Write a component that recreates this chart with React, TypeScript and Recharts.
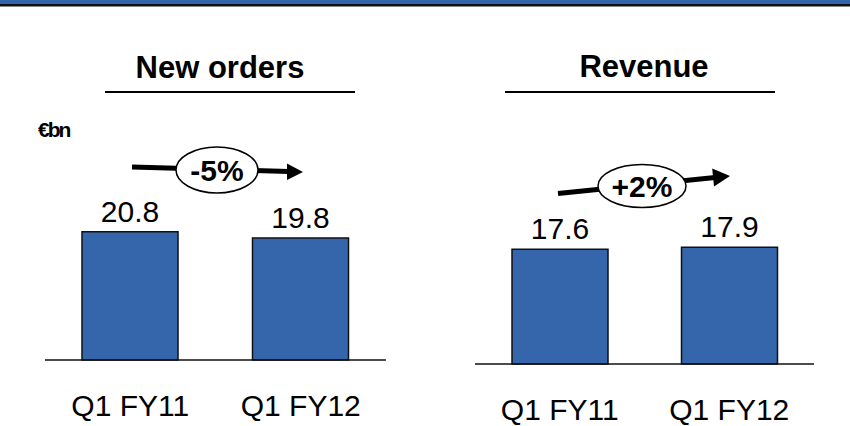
import React from "react";
import { BarChart, Bar, XAxis, YAxis, LabelList } from "recharts";

// Values (€bn)
const categories = ["Q1 FY11", "Q1 FY12"];
const newOrders = [20.8, 19.8];
const revenue = [17.6, 17.9];
const titles = ["New orders", "Revenue"];
const changes = ["-5%", "+2%"];
const unit = "€bn";

const BLUE = "#3566AB";
const FONT = "Arial, 'Liberation Sans', sans-serif";

const ordersData = categories.map((c, i) => ({ name: c, value: newOrders[i] }));
const revenueData = categories.map((c, i) => ({ name: c, value: revenue[i] }));

interface PanelProps {
  data: { name: string; value: number }[];
  left: number;
  margin: { top: number; right: number; left: number; bottom: number };
  axisHeight: number;
}

function Panel({ data, left, margin, axisHeight }: PanelProps) {
  return (
    <div style={{ position: "absolute", left, top: 0 }}>
      <BarChart width={425} height={426} data={data} margin={margin} barCategoryGap={0}>
        <XAxis
          dataKey="name"
          height={axisHeight}
          tickLine={false}
          tickSize={0}
          tickMargin={35}
          axisLine={{ stroke: "#111", strokeWidth: 1.5 }}
          tick={{ fill: "#000", fontSize: 30, fontFamily: FONT }}
          interval={0}
        />
        <YAxis hide domain={[0, 25]} />
        <Bar dataKey="value" fill={BLUE} stroke="#111" strokeWidth={1.5} barSize={96} isAnimationActive={false}>
          <LabelList
            dataKey="value"
            position="top"
            offset={10}
            formatter={(v: number) => v.toFixed(1)}
            style={{ fill: "#000", fontSize: 30, fontFamily: FONT }}
          />
        </Bar>
      </BarChart>
    </div>
  );
}

export default function App() {
  return (
    <div style={{ position: "absolute", left: 0, top: 0, width: 850, height: 426, background: "#fff", overflow: "hidden" }}>
      <Panel data={ordersData} left={0} margin={{ top: 206, right: 39, left: 45, bottom: 0 }} axisHeight={66} />
      <Panel data={revenueData} left={425} margin={{ top: 201, right: 36, left: 50, bottom: 0 }} axisHeight={62} />

      {/* slide decorations: header band, titles, growth arrows */}
      <svg width={850} height={426} style={{ position: "absolute", left: 0, top: 0, pointerEvents: "none" }}>
        <rect x={0} y={0} width={850} height={4} fill={BLUE} />
        <rect x={0} y={4} width={850} height={2} fill="#111" />
        <rect x={0} y={6} width={850} height={1} fill="#888" />

        <text x={220} y={78} textAnchor="middle" fontFamily={FONT} fontWeight="bold" fontSize={31} fill="#000">
          {titles[0]}
        </text>
        <line x1={105} y1={92} x2={355} y2={92} stroke="#000" strokeWidth={2} />
        <text x={644} y={77} textAnchor="middle" fontFamily={FONT} fontWeight="bold" fontSize={31} fill="#000">
          {titles[1]}
        </text>
        <line x1={505} y1={92} x2={775} y2={92} stroke="#000" strokeWidth={2} />

        <text x={38} y={137} fontFamily={FONT} fontWeight="bold" fontSize={21} letterSpacing={-2} fill="#000">
          {unit}
        </text>

        {/* -5% arrow */}
        <line x1={132} y1={167} x2={289} y2={171.5} stroke="#000" strokeWidth={5} />
        <polygon points="287,163.5 303,172 287,180" fill="#000" />
        <ellipse cx={217} cy={170} rx={41} ry={23} fill="#fff" stroke="#000" strokeWidth={1.5} />
        <text x={217} y={181} textAnchor="middle" fontFamily={FONT} fontWeight="bold" fontSize={30} fill="#000">
          {changes[0]}
        </text>

        {/* +2% arrow */}
        <line x1={558} y1={193.6} x2={715} y2={177.5} stroke="#000" strokeWidth={5} />
        <polygon points="712.2,168.5 730,176 714,186.5" fill="#000" />
        <ellipse cx={642} cy={186} rx={44} ry={21.5} fill="#fff" stroke="#000" strokeWidth={1.5} />
        <text x={642} y={197} textAnchor="middle" fontFamily={FONT} fontWeight="bold" fontSize={30} fill="#000">
          {changes[1]}
        </text>
      </svg>
    </div>
  );
}
